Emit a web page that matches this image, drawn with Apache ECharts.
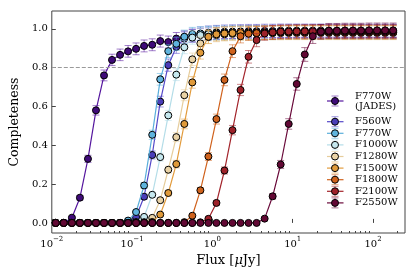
<!DOCTYPE html>
<html><head><meta charset="utf-8">
<script src="https://cdn.jsdelivr.net/npm/echarts@6/dist/echarts.min.js"></script>
<style>html,body{margin:0;padding:0;background:#fff}#c{width:415px;height:277px}</style>
</head><body><div id="c"></div>
<script>
// ---- data ----
const flux = [0.0112,0.0141,0.0178,0.0224,0.0282,0.0355,0.0447,0.0562,0.0708,0.0891,
  0.112,0.141,0.178,0.224,0.282,0.355,0.447,0.562,0.708,0.891,
  1.122,1.413,1.778,2.239,2.818,3.548,4.467,5.623,7.079,8.913,
  11.22,14.13,17.78,22.39,28.18,35.48,44.67,56.23,70.79,89.13,
  112.2,141.3,177.8];
const f770wJades = [0,0,0.027,0.13,0.33,0.58,0.76,0.84,0.866,0.884,
  0.897,0.912,0.918,0.937,0.932,0.95,0.958,0.965,0.97,0.974,
  0.977,0.98,0.982,0.983,0.985,0.986,0.986,0.987,0.988,0.988,
  0.989,0.989,0.99,0.99,0.99,0.99,0.99,0.99,0.99,0.99,0.99,0.99,0.99];
const f560w = [0,0,0,0,0,0,0,0,0,0.01,
  0.03,0.135,0.35,0.625,0.813,0.907,0.95,0.965,0.975,0.98,
  0.983,0.985,0.986,0.987,0.988,0.988,0.989,0.989,0.99,0.99,
  0.99,0.99,0.99,0.99,0.99,0.99,0.99,0.99,0.99,0.99,0.99,0.99,0.99];
const f770w = [0,0,0,0,0,0,0,0,0,0.012,
  0.056,0.193,0.454,0.74,0.885,0.923,0.959,0.973,0.976,0.978,
  0.98,0.98,0.981,0.981,0.982,0.982,0.983,0.983,0.983,0.984,
  0.984,0.984,0.984,0.984,0.984,0.984,0.984,0.984,0.984,0.984,0.984,0.984,0.984];
const f1000w = [0,0,0,0,0,0,0,0,0,0,
  0.005,0.031,0.145,0.339,0.554,0.764,0.905,0.955,0.968,0.973,
  0.975,0.976,0.977,0.977,0.978,0.978,0.979,0.979,0.98,0.98,
  0.98,0.98,0.98,0.98,0.98,0.98,0.98,0.98,0.98,0.98,0.98,0.98,0.98];
const f1280w = [0,0,0,0,0,0,0,0,0,0,
  0,0.004,0.026,0.117,0.274,0.442,0.658,0.843,0.925,0.958,
  0.968,0.972,0.974,0.975,0.976,0.977,0.977,0.978,0.978,0.979,
  0.979,0.979,0.979,0.979,0.979,0.979,0.979,0.979,0.979,0.979,0.979,0.979,0.979];
const f1500w = [0,0,0,0,0,0,0,0,0,0,
  0,0,0.005,0.043,0.154,0.303,0.51,0.724,0.877,0.959,
  0.972,0.976,0.978,0.979,0.98,0.98,0.981,0.981,0.982,0.982,
  0.982,0.982,0.982,0.982,0.982,0.982,0.982,0.982,0.982,0.982,0.982,0.982,0.982];
const f1800w = [0,0,0,0,0,0,0,0,0,0,
  0,0,0,0,0,0,0.004,0.037,0.168,0.342,
  0.535,0.737,0.885,0.962,0.975,0.978,0.98,0.981,0.982,0.982,
  0.983,0.983,0.983,0.983,0.983,0.983,0.983,0.983,0.983,0.983,0.983,0.983,0.983];
const f2100w = [0,0,0,0,0,0,0,0,0,0,
  0,0,0,0,0,0,0,0,0.003,0.021,
  0.103,0.27,0.478,0.685,0.856,0.942,0.976,0.982,0.985,0.986,
  0.987,0.987,0.987,0.987,0.987,0.987,0.987,0.987,0.987,0.987,0.987,0.987,0.987];
const f2550w = [0,0,0,0,0,0,0,0,0,0,
  0,0,0,0,0,0,0,0,0,0,
  0,0,0,0,0,0,0.022,0.137,0.301,0.51,
  0.716,0.868,0.962,0.985,0.99,0.99,0.991,0.991,0.991,0.992,0.992,0.992,0.992];

const seriesNames = ['F770W\n(JADES)','F560W','F770W','F1000W','F1280W','F1500W','F1800W','F2100W','F2550W'];
const seriesValues = [f770wJades,f560w,f770w,f1000w,f1280w,f1500w,f1800w,f2100w,f2550w];
const errScale = [0.032,0.035,0.035,0.035,0.035,0.035,0.035,0.035,0.038];
const xTicks = [0.01,0.1,1,10,100];
const xMinorTicks = [0.02,0.03,0.04,0.05,0.06,0.07,0.08,0.09,0.2,0.3,0.4,0.5,0.6,0.7,0.8,0.9,
  2,3,4,5,6,7,8,9,20,30,40,50,60,70,80,90,200];
const yTicks = [0,0.2,0.4,0.6,0.8,1.0];
const refLevel = 0.8;

// ---- style ----
const lineColors = ['#55169e','#5548c8','#5aaedb','#b4dde8','#e6cd9c','#e29c3e','#d0621d','#a3242b','#6a0b3b'];
const fillColors = ['#3f0a78','#4a3db8','#5fb4de','#c6e8ef','#ead3a6','#e09a3a','#cf621c','#9e2129','#620834'];
const FONT = 'DejaVu Serif';

const chart = echarts.init(document.getElementById('c'), null, {renderer:'canvas'});

const series = [];
seriesValues.forEach((vals, i) => {
  const errData = [];
  vals.forEach((v, j) => {
    if (v > 0) { const e = errScale[i] * Math.sqrt(v); errData.push([flux[j], v - e, v + e]); }
  });
  const ecol = lineColors[i];
  series.push({
    type: 'custom', name: seriesNames[i] + '_err', xAxisIndex: 0, yAxisIndex: 0, z: 2 + 2*i,
    data: errData, silent: true,
    renderItem: (params, api) => {
      const x = api.value(0);
      const pLo = api.coord([x, api.value(1)]);
      const pHi = api.coord([x, api.value(2)]);
      const w = 3.5;
      const st = {stroke: ecol, lineWidth: 1, opacity: 0.55};
      return {type:'group', children:[
        {type:'line', shape:{x1:pLo[0], y1:pLo[1], x2:pHi[0], y2:pHi[1]}, style:st},
        {type:'line', shape:{x1:pLo[0]-w, y1:pLo[1], x2:pLo[0]+w, y2:pLo[1]}, style:st},
        {type:'line', shape:{x1:pHi[0]-w, y1:pHi[1], x2:pHi[0]+w, y2:pHi[1]}, style:st}
      ]};
    }
  });
  const s = {
    type: 'line', name: seriesNames[i], xAxisIndex: 0, yAxisIndex: 0, z: 3 + 2*i,
    data: vals.map((v, j) => [flux[j], v]),
    symbol: 'circle', symbolSize: 7, showAllSymbol: true,
    lineStyle: {color: lineColors[i], width: 1.2},
    itemStyle: {color: fillColors[i], borderColor: '#000', borderWidth: 1},
    emphasis: {disabled: true}
  };
  if (i === 0) {
    s.markLine = {silent: true, symbol: 'none', label: {show: false},
      lineStyle: {color: '#9a9a9a', type: [4, 2], width: 1},
      data: [{yAxis: refLevel}]};
  }
  series.push(s);
});

// legend drawn with graphic elements
const legendRowY = [101, 121.7, 133.3, 144.9, 156.5, 168.1, 179.7, 191.3, 202.9];
const graphics = [];
seriesNames.forEach((name, i) => {
  const y = legendRowY[i], cx = 335;
  graphics.push({type:'line', shape:{x1:327, y1:y, x2:343.5, y2:y}, style:{stroke: lineColors[i], lineWidth: 1.2}, z: 100});
  const est = {stroke: lineColors[i], lineWidth: 1, opacity: 0.55};
  graphics.push({type:'line', shape:{x1:cx, y1:y-5, x2:cx, y2:y+5}, style: est, z: 100});
  graphics.push({type:'line', shape:{x1:cx-3.5, y1:y-5, x2:cx+3.5, y2:y-5}, style: est, z: 100});
  graphics.push({type:'line', shape:{x1:cx-3.5, y1:y+5, x2:cx+3.5, y2:y+5}, style: est, z: 100});
  graphics.push({type:'circle', shape:{cx: cx, cy: y, r: 3.5}, style:{fill: fillColors[i], stroke:'#000', lineWidth:1}, z: 101});
  graphics.push({type:'text', x: 355, y: y, style:{text: name, font: '10px "DejaVu Serif"', fill:'#000', verticalAlign:'middle', align:'left', lineHeight: 10}, z: 101});
});

function supLabel(v) {
  const e = Math.round(Math.log10(v));
  const es = e < 0 ? '\u2212' + (-e) : String(e);
  return '{b|10}{s|' + es + '}';
}

chart.setOption({
  animation: false,
  backgroundColor: '#fff',
  grid: {left: 44, right: 10, top: 11, bottom: 44, show: true, borderColor: '#444', borderWidth: 1, backgroundColor: 'transparent'},
  xAxis: [{
    type: 'log', logBase: 10, min: 0.01, max: 250, position: 'bottom',
    name: '{n|Flux [}{i|\u03bc}{n|Jy]}', nameLocation: 'middle', nameGap: 13,
    nameTextStyle: {rich: {n: {fontFamily: FONT, fontSize: 13, color: '#000'}, i: {fontFamily: FONT, fontStyle: 'italic', fontSize: 13, color: '#000'}}, verticalAlign: 'top'},
    axisLine: {show: false},
    axisTick: {show: true, inside: true, length: 4, customValues: xTicks, lineStyle: {color: '#444'}},
    axisLabel: {show: true, customValues: xTicks, margin: 3, formatter: supLabel,
      rich: {b: {fontFamily: FONT, fontSize: 10, color: '#000', lineHeight: 13, verticalAlign: 'bottom'},
             s: {fontFamily: FONT, fontSize: 7, color: '#000', lineHeight: 13, verticalAlign: 'top'}}},
    splitLine: {show: false}
  }, {
    type: 'log', logBase: 10, min: 0.01, max: 250, position: 'bottom',
    axisLine: {show: false},
    axisTick: {show: true, inside: true, length: 2, customValues: xMinorTicks, lineStyle: {color: '#444'}},
    axisLabel: {show: false}, splitLine: {show: false}
  }],
  yAxis: [{
    type: 'value', min: -0.052, max: 1.092,
    name: 'Completeness', nameLocation: 'middle', nameGap: 22, nameRotate: 90,
    nameTextStyle: {fontFamily: FONT, fontSize: 12.5, color: '#000'},
    axisLine: {show: false},
    axisTick: {show: true, inside: true, length: 4, customValues: yTicks, lineStyle: {color: '#444'}},
    axisLabel: {customValues: yTicks, margin: 4, fontFamily: FONT, fontSize: 10, color: '#000',
      formatter: v => v.toFixed(1)},
    splitLine: {show: false}
  }],
  graphic: graphics,
  series: series
});
</script></body></html>
